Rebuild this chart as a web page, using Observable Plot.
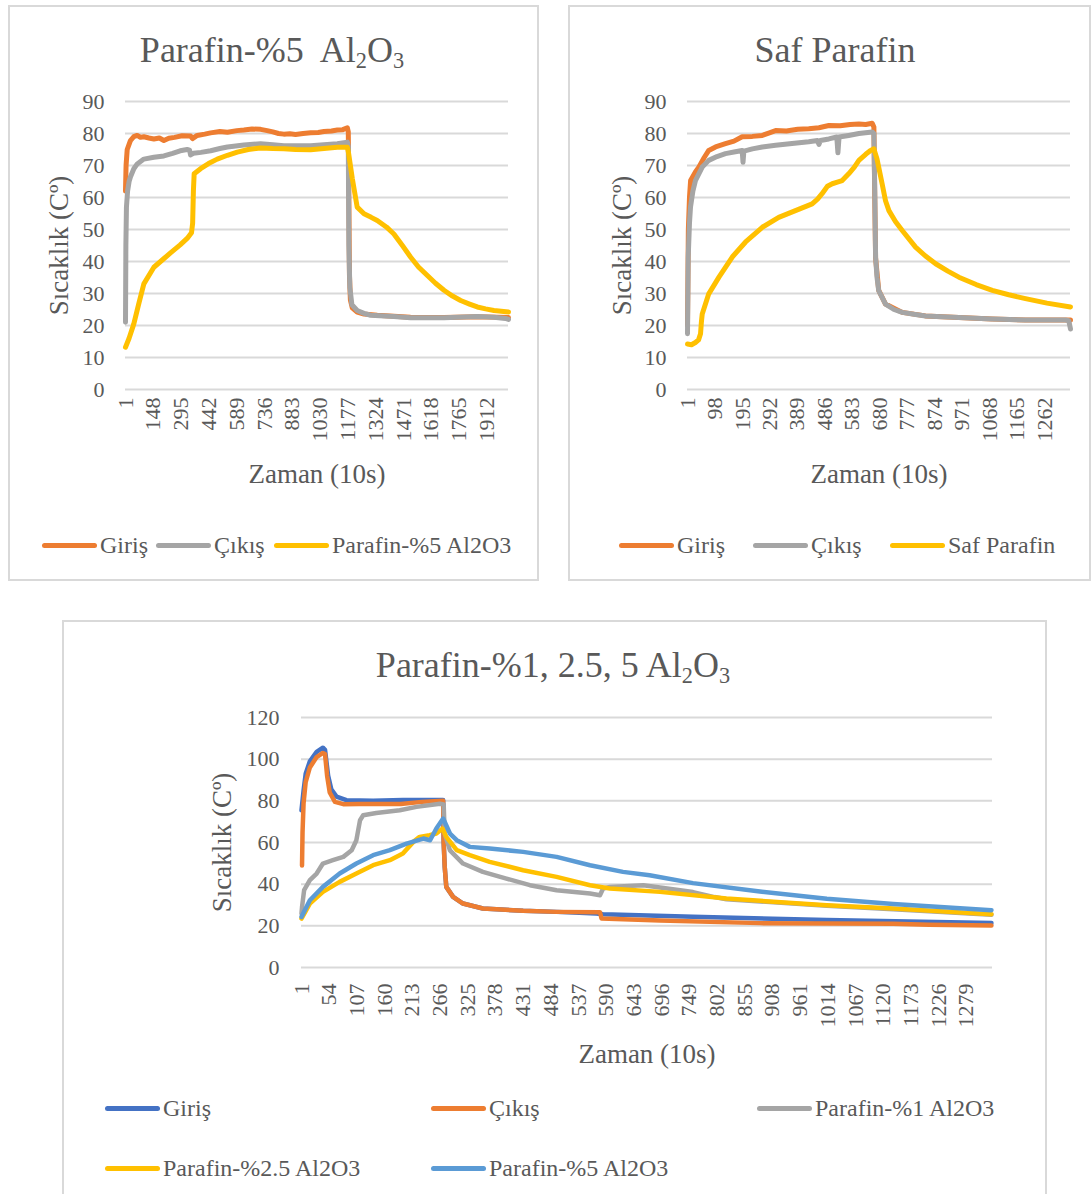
<!DOCTYPE html>
<html><head><meta charset="utf-8">
<script src="https://cdn.jsdelivr.net/npm/d3@7"></script>
<script src="https://cdn.jsdelivr.net/npm/@observablehq/plot@0.6"></script>
<style>
html,body{margin:0;padding:0;background:#fff}
body{width:1091px;height:1194px;position:relative;overflow:hidden;font-family:"Liberation Serif","Times New Roman",serif;color:#595959}
.panel{position:absolute;border:2px solid #d9d9d9;box-sizing:border-box;background:#fff}
.title{position:absolute;font-family:"Liberation Serif","Times New Roman",serif;font-size:36px;line-height:36px;white-space:nowrap;transform:translateX(-50%)}
.title sub{font-size:0.62em;vertical-align:-0.25em;line-height:0}
.chart{position:absolute}
.chart svg, .chart svg text{font-family:"Liberation Serif","Times New Roman",serif !important}
.leg{position:absolute;height:30px;display:flex;align-items:center;font-family:"Liberation Serif","Times New Roman",serif;font-size:24px;white-space:nowrap;color:#595959}
.sw{display:inline-block;width:55px;height:5px;border-radius:3px;margin-right:3px}
svg g[aria-label="x-axis label"] text, svg g[aria-label="y-axis label"] text{font-size:27px}
</style>
</head><body>
<div class="panel" style="left:8px;top:5px;width:531px;height:576px"></div>
<div class="panel" style="left:568px;top:5px;width:523px;height:576px"></div>
<div class="panel" style="left:62px;top:620px;width:985px;height:590px"></div>
<div class="title" style="left:272px;top:32px">Parafin-%5&nbsp; Al<sub>2</sub>O<sub>3</sub></div>
<div class="title" style="left:835px;top:32px">Saf Parafin</div>
<div class="title" style="left:553px;top:647px">Parafin-%1, 2.5, 5 Al<sub>2</sub>O<sub>3</sub></div>
<div id="tl" class="chart" style="left:8px;top:80px"></div>
<div id="tr" class="chart" style="left:568px;top:80px"></div>
<div id="bt" class="chart" style="left:62px;top:690px"></div>
<div id="legends"></div>
<script>
// ---------- Data ----------
const yLabel = "Sıcaklık (Cº)";
const xLabel = "Zaman (10s)";

// Top-left: Parafin-%5 Al2O3  [time, °C]
const tlTicks = [1,148,295,442,589,736,883,1030,1177,1324,1471,1618,1765,1912];
const tlGiris = [[1,62],[4,70],[10,75],[27,77.8],[45,79],[63,79.4],[80,78.8],[98,79],[125,78.6],[151,78.3],[180,78.6],[204,77.8],[230,78.5],[260,78.8],[300,79.3],[345,79.2],[355,78.4],[380,79.4],[420,79.8],[451,80.2],[500,80.6],[540,80.4],[590,80.9],[627,81.1],[670,81.4],[715,81.3],[750,80.9],[780,80.5],[810,80],[838,79.8],[870,79.9],[900,79.7],[940,80],[980,80.2],[1020,80.3],[1050,80.6],[1090,80.8],[1121,81.1],[1150,81.2],[1174,81.8],[1179,80.5],[1182,60],[1185,36],[1190,28],[1200,25.5],[1226,24.2],[1262,23.6],[1332,23.2],[1420,22.9],[1508,22.6],[1685,22.5],[1861,22.7],[2026,22.5]];
const tlCikis = [[1,21],[3,45],[6,57],[12,62],[20,65],[27,66.4],[45,69],[63,70.5],[98,72],[151,72.6],[204,73],[250,73.8],[290,74.6],[327,75],[340,74.8],[345,73.3],[360,73.8],[400,74.1],[451,74.6],[500,75.3],[540,75.8],[627,76.4],[715,76.8],[780,76.5],[838,76.2],[980,76.2],[1050,76.5],[1121,76.8],[1174,77.3],[1179,76],[1182,45],[1187,32],[1198,26.5],[1226,24.7],[1262,23.8],[1297,23.2],[1420,22.8],[1508,22.4],[1685,22.4],[1861,22.8],[1949,22.6],[2010,22.2],[2026,21.9]];
const tlParafin5 = [[1,13.2],[20,16],[45,20.5],[70,26.5],[98,33],[151,38.2],[200,40.7],[239,42.7],[290,45.2],[327,47.2],[350,49],[356,52],[360,62],[364,67.4],[398,69],[440,70.6],[486,72],[540,73.2],[592,74.2],[650,75],[715,75.5],[780,75.3],[838,75.2],[900,75],[980,74.9],[1050,75.3],[1121,75.7],[1174,75.7],[1180,74],[1200,66],[1226,57],[1262,54.9],[1300,53.8],[1332,52.8],[1380,50.8],[1420,48.6],[1465,45],[1508,41.4],[1550,38.3],[1597,35.6],[1640,33.2],[1685,31],[1730,29.2],[1773,27.8],[1820,26.7],[1861,25.8],[1905,25.2],[1949,24.7],[2026,24.2]];

// Top-right: Saf Parafin
const trTicks = [1,98,195,292,389,486,583,680,777,874,971,1068,1165,1262];
const trGiris = [[1,20],[4,50],[8,60],[12,65.3],[29,68],[41,69.5],[60,72.5],[76,74.7],[100,75.8],[135,76.8],[165,77.6],[194,79],[230,79.1],[265,79.4],[290,80.2],[312,80.9],[350,80.8],[390,81.3],[429,81.5],[465,81.8],[500,82.5],[540,82.4],[575,82.8],[606,83],[630,82.8],[653,83.2],[659,82],[662,60],[665,41],[676,31],[700,26.7],[759,24.1],[841,23],[959,22.5],[1077,22],[1194,21.7],[1353,21.7]];
const trCikis = [[1,17.4],[3.5,41.3],[8,52],[11.6,57],[20,62],[29,65.3],[53,69.5],[76,71.6],[105,72.8],[135,73.7],[165,74.2],[194,74.7],[197,71],[200,74.5],[230,75.2],[265,75.8],[312,76.3],[370,76.9],[429,77.4],[460,77.8],[465,76.6],[470,77.8],[500,78.3],[528,78.9],[532,74],[536,78.9],[570,79.4],[606,80],[653,80.5],[659,80],[662,62.2],[665,41.3],[670,35],[676,30.9],[700,26.7],[730,25],[759,24.1],[800,23.5],[841,23],[900,22.7],[959,22.5],[1077,22],[1194,21.7],[1335,21.7],[1347,21.5],[1353,18.9]];
const trSafParafin = [[1,14.2],[15,14],[29,14.7],[40,15.5],[47,17.4],[50,21],[53,23.6],[76,29.9],[112,35.1],[159,41.4],[206,46.1],[265,50.7],[323,53.8],[382,55.9],[441,58],[460,59.5],[476,61.2],[495,63.5],[512,64.3],[530,64.8],[547,65.3],[570,67.4],[590,69.5],[606,71.6],[630,73.5],[647,74.7],[659,75.2],[670,72],[688,64.3],[700,59],[712,55.9],[735,52.5],[759,49.7],[806,44.5],[840,41.8],[877,39.3],[920,37],[959,35.1],[1020,32.8],[1077,31],[1135,29.6],[1194,28.4],[1270,27],[1353,25.8]];

// Bottom: Parafin-%1, 2.5, 5 Al2O3  [category index, °C]
const btTickLabels = ["1","54","107","160","213","266","325","378","431","484","537","590","643","696","749","802","855","908","961","1014","1067","1120","1173","1226","1279"];
const btGiris = [[0,75.5],[4,85],[8,93],[16,99],[29,103.5],[41,105.5],[45,104.5],[51,92],[57,85.5],[67,82],[86,80.3],[137,80],[194,80.4],[271,80.4],[272,60],[274,48.3],[277,38.7],[290,33.9],[309,30.7],[347,28.3],[424,27.2],[488,26.7],[564,25.9],[577,25.6],[749,24.4],[1005,22.8],[1320,21.4]];
const btCikis = [[1,49],[2,65],[4,79],[8,89],[16,96],[29,101],[41,103],[45,102.5],[49,92],[54,84],[64,79.5],[80,78.4],[110,78.5],[190,78.5],[230,79.5],[271,80],[272,60],[274,48.3],[277,38.7],[290,33.9],[309,30.7],[347,28.3],[424,27.2],[488,26.7],[571,26.5],[574,23.5],[686,22.6],[877,21.3],[1132,21],[1200,20.5],[1320,20.2]];
const btParafin1 = [[0,25.9],[1,29],[5,37.1],[16,41.9],[29,45.1],[41,49.9],[60,51.5],[80,53.1],[96,56.3],[105,61.1],[112,70.7],[118,73.1],[143,74.2],[188,75.5],[220,77.1],[265,78.6],[272,78.3],[274,64.2],[284,56.2],[309,49.9],[347,45.9],[392,42.7],[437,39.5],[488,37.1],[552,35.5],[571,34.7],[577,37.9],[590,38.7],[654,39.5],[749,36.2],[790,33.8],[813,32.8],[1005,29.6],[1132,28],[1320,25.3]];
const btParafin25 = [[0,23.5],[16,30.7],[41,36.3],[73,41.1],[105,45.1],[137,49.1],[169,51.5],[194,54.7],[214,60.3],[226,62.7],[245,63.5],[258,64.3],[270,66.7],[277,62.7],[297,56.3],[322,53.9],[360,50.7],[424,46.7],[488,43.5],[552,39.5],[590,37.9],[686,36.3],[813,33.1],[1005,29.9],[1132,28.3],[1320,25.6]];
const btParafin5 = [[0,24.3],[16,32.3],[41,38.7],[73,45.1],[105,49.9],[137,53.9],[169,56.3],[201,59.5],[233,61.9],[246,61.1],[258,66.7],[271,71.5],[284,64.3],[297,61.1],[322,57.9],[360,57.1],[424,55.5],[488,53.1],[552,49.1],[615,45.9],[666,44.3],[749,40.5],[877,36.5],[1005,33],[1132,30.5],[1320,27.5]];

// ---------- Colours ----------
const cOrange = "#ED7D31", cGray = "#A5A5A5", cYellow = "#FFC000", cBlue = "#4472C4", cLightBlue = "#5B9BD5";

const toRows = arr => arr.map(([t, v]) => ({t, v}));
const gridColor = "#d9d9d9";
const svgStyle = "font-family:'Liberation Serif','Times New Roman',serif;font-size:22px;color:#595959;background:transparent;overflow:visible;";

function topChart(series, ticks, xMax, width, mLeft, mRight, yLabOffset) {
  return Plot.plot({
    width, height: 420,
    marginLeft: mLeft, marginRight: mRight, marginTop: 21, marginBottom: 111,
    style: svgStyle,
    x: {domain: [1, xMax]},
    y: {domain: [0, 90]},
    marks: [
      Plot.gridY(d3.range(0, 91, 10), {stroke: gridColor, strokeOpacity: 1, strokeWidth: 2}),
      Plot.axisY(d3.range(0, 91, 10), {tickSize: 0, tickPadding: 21, label: yLabel, labelAnchor: "center", labelArrow: "none", labelOffset: yLabOffset}),
      Plot.axisX(ticks, {tickSize: 0, tickPadding: 8, tickRotate: -90, tickFormat: d => String(d), label: xLabel, labelAnchor: "center", labelArrow: "none", labelOffset: 93}),
      ...series.map(s => Plot.line(toRows(s.data), {x: "t", y: "v", stroke: s.color, strokeWidth: 5, strokeLinejoin: "round", strokeLinecap: "round"}))
    ]
  });
}

document.getElementById("tl").append(topChart([
  {data: tlGiris, color: cOrange}, {data: tlCikis, color: cGray}, {data: tlParafin5, color: cYellow}
], tlTicks, 2026, 530, 117, 30, 77));

document.getElementById("tr").append(topChart([
  {data: trGiris, color: cOrange}, {data: trCikis, color: cGray}, {data: trSafParafin, color: cYellow}
], trTicks, 1353, 521, 119, 19, 76));

const btTicks = btTickLabels.map((_, k) => k * 53);
document.getElementById("bt").append(Plot.plot({
  width: 984, height: 385,
  marginLeft: 239, marginRight: 54, marginTop: 27, marginBottom: 108,
  style: svgStyle,
  x: {domain: [0, 1322]},
  y: {domain: [0, 120]},
  marks: [
    Plot.gridY(d3.range(0, 121, 20), {stroke: gridColor, strokeOpacity: 1, strokeWidth: 2}),
    Plot.axisY(d3.range(0, 121, 20), {tickSize: 0, tickPadding: 22, label: yLabel, labelAnchor: "center", labelArrow: "none", labelOffset: 90}),
    Plot.axisX(btTicks, {tickSize: 0, tickPadding: 16, tickRotate: -90, tickFormat: d => btTickLabels[Math.round(d / 53)], label: xLabel, labelAnchor: "center", labelArrow: "none", labelOffset: 95}),
    ...[[btGiris, cBlue], [btCikis, cOrange], [btParafin1, cGray], [btParafin25, cYellow], [btParafin5, cLightBlue]]
      .map(([d, c]) => Plot.line(toRows(d), {x: "t", y: "v", stroke: c, strokeWidth: 4.5, strokeLinejoin: "round", strokeLinecap: "round"}))
  ]
}));

// ---------- Legends ----------
const legendItems = [
  {x: 42, y: 545, color: cOrange, label: "Giriş"},
  {x: 156, y: 545, color: cGray, label: "Çıkış"},
  {x: 274, y: 545, color: cYellow, label: "Parafin-%5 Al2O3"},
  {x: 619, y: 545, color: cOrange, label: "Giriş"},
  {x: 753, y: 545, color: cGray, label: "Çıkış"},
  {x: 890, y: 545, color: cYellow, label: "Saf Parafin"},
  {x: 105, y: 1108, color: cBlue, label: "Giriş"},
  {x: 431, y: 1108, color: cOrange, label: "Çıkış"},
  {x: 757, y: 1108, color: cGray, label: "Parafin-%1 Al2O3"},
  {x: 105, y: 1168, color: cYellow, label: "Parafin-%2.5 Al2O3"},
  {x: 431, y: 1168, color: cLightBlue, label: "Parafin-%5 Al2O3"}
];
const legHost = document.getElementById("legends");
for (const it of legendItems) {
  const d = document.createElement("div");
  d.className = "leg";
  d.style.left = it.x + "px";
  d.style.top = (it.y - 15) + "px";
  const sw = document.createElement("span");
  sw.className = "sw";
  sw.style.background = it.color;
  d.append(sw, document.createTextNode(it.label));
  legHost.append(d);
}
</script>
</body></html>
